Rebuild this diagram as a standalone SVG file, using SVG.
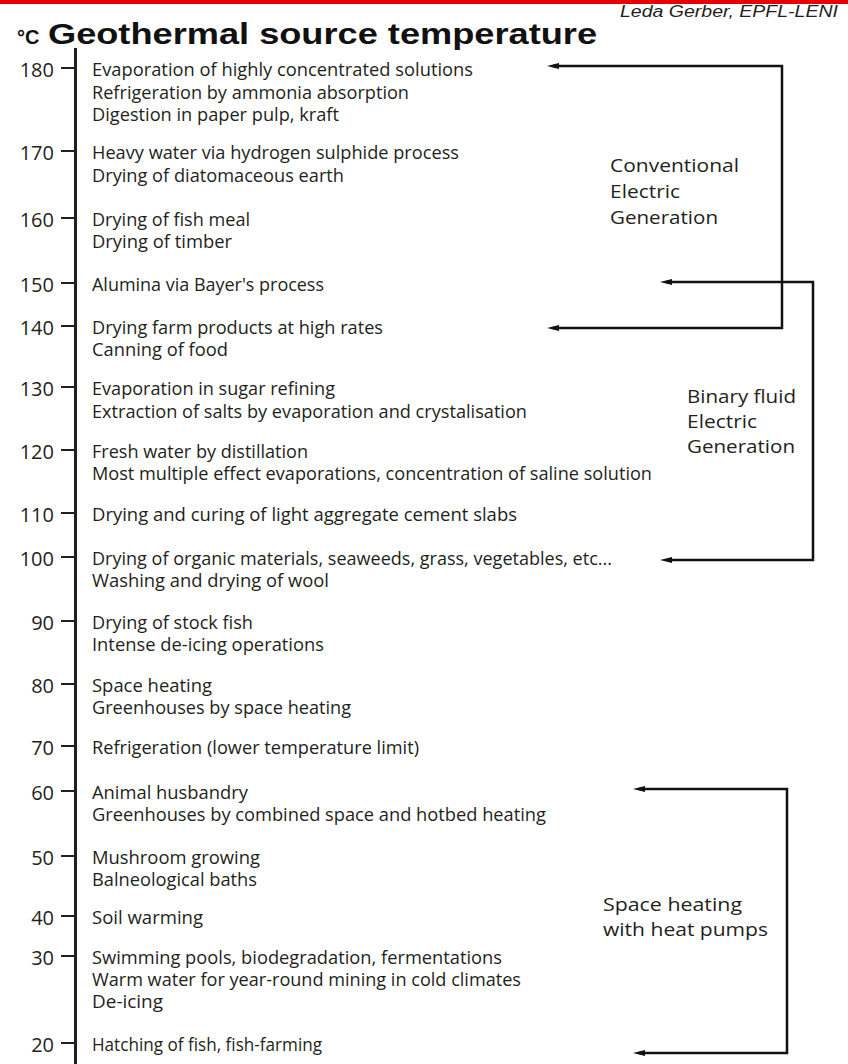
<svg xmlns="http://www.w3.org/2000/svg" width="848" height="1064" viewBox="0 0 848 1064">
<defs>
<style>
.t{font-family:"Open Sans","Noto Sans","Liberation Sans",sans-serif;font-size:17.5px;fill:#231f20}
.n{font-family:"Open Sans","Noto Sans","Liberation Sans",sans-serif;font-size:20px;fill:#231f20;text-anchor:end}
.lab{font-family:"Open Sans","Noto Sans","Liberation Sans",sans-serif;font-size:18px;fill:#231f20}
.tick{stroke:#231f20;stroke-width:2}
.conn{fill:none;stroke:#111;stroke-width:2.5;marker-start:url(#ah);marker-end:url(#ah)}
</style>
<marker id="ah" markerUnits="userSpaceOnUse" markerWidth="12" markerHeight="7" refX="6" refY="3.5" orient="auto-start-reverse">
<path d="M0,0.5 L12,3.5 L0,6.5 z" fill="#111"/>
</marker>
</defs>
<rect width="848" height="1064" fill="#fff"/>
<rect x="0" y="0" width="848" height="4" fill="#e60000"/>
<g id="header">
<text x="838" y="17" text-anchor="end" font-family="Liberation Sans, sans-serif" font-style="italic" font-size="16" fill="#231f20" textLength="218" lengthAdjust="spacingAndGlyphs">Leda Gerber, EPFL-LENI</text>
<text x="17" y="44" font-family="Liberation Sans, sans-serif" font-weight="bold" font-size="20" fill="#111">°C</text>
<text x="48" y="44" font-family="Liberation Sans, sans-serif" font-weight="bold" font-size="29" fill="#111" textLength="549" lengthAdjust="spacingAndGlyphs">Geothermal source temperature</text>
</g>
<g id="axis">
<line x1="75.5" y1="48" x2="75.5" y2="1064" stroke="#231f20" stroke-width="3"/>
</g>
<g id="t180">
<line class="tick" x1="61" y1="68" x2="75" y2="68"/>
<text class="n" x="54" y="77">180</text>
<text class="t" x="92" y="76" textLength="381" lengthAdjust="spacingAndGlyphs">Evaporation of highly concentrated solutions</text>
<text class="t" x="92" y="98.5" textLength="317" lengthAdjust="spacingAndGlyphs">Refrigeration by ammonia absorption</text>
<text class="t" x="92" y="121" textLength="247" lengthAdjust="spacingAndGlyphs">Digestion in paper pulp, kraft</text>
</g>
<g id="t170">
<line class="tick" x1="61" y1="151" x2="75" y2="151"/>
<text class="n" x="54" y="160">170</text>
<text class="t" x="92" y="159" textLength="367" lengthAdjust="spacingAndGlyphs">Heavy water via hydrogen sulphide process</text>
<text class="t" x="92" y="182" textLength="252" lengthAdjust="spacingAndGlyphs">Drying of diatomaceous earth</text>
</g>
<g id="t160">
<line class="tick" x1="61" y1="218" x2="75" y2="218"/>
<text class="n" x="54" y="227">160</text>
<text class="t" x="92" y="226" textLength="158" lengthAdjust="spacingAndGlyphs">Drying of fish meal</text>
<text class="t" x="92" y="248" textLength="140" lengthAdjust="spacingAndGlyphs">Drying of timber</text>
</g>
<g id="t150">
<line class="tick" x1="61" y1="283" x2="75" y2="283"/>
<text class="n" x="54" y="292">150</text>
<text class="t" x="92" y="291" textLength="232" lengthAdjust="spacingAndGlyphs">Alumina via Bayer's process</text>
</g>
<g id="t140">
<line class="tick" x1="61" y1="326" x2="75" y2="326"/>
<text class="n" x="54" y="335">140</text>
<text class="t" x="92" y="334" textLength="291" lengthAdjust="spacingAndGlyphs">Drying farm products at high rates</text>
<text class="t" x="92" y="356" textLength="136" lengthAdjust="spacingAndGlyphs">Canning of food</text>
</g>
<g id="t130">
<line class="tick" x1="61" y1="387" x2="75" y2="387"/>
<text class="n" x="54" y="396">130</text>
<text class="t" x="92" y="395" textLength="243" lengthAdjust="spacingAndGlyphs">Evaporation in sugar refining</text>
<text class="t" x="92" y="418" textLength="435" lengthAdjust="spacingAndGlyphs">Extraction of salts by evaporation and crystalisation</text>
</g>
<g id="t120">
<line class="tick" x1="61" y1="450" x2="75" y2="450"/>
<text class="n" x="54" y="459">120</text>
<text class="t" x="92" y="458" textLength="216" lengthAdjust="spacingAndGlyphs">Fresh water by distillation</text>
<text class="t" x="92" y="480" textLength="560" lengthAdjust="spacingAndGlyphs">Most multiple effect evaporations, concentration of saline solution</text>
</g>
<g id="t110">
<line class="tick" x1="61" y1="513" x2="75" y2="513"/>
<text class="n" x="54" y="522">110</text>
<text class="t" x="92" y="521" textLength="425" lengthAdjust="spacingAndGlyphs">Drying and curing of light aggregate cement slabs</text>
</g>
<g id="t100">
<line class="tick" x1="61" y1="557" x2="75" y2="557"/>
<text class="n" x="54" y="566">100</text>
<text class="t" x="92" y="565" textLength="520" lengthAdjust="spacingAndGlyphs">Drying of organic materials, seaweeds, grass, vegetables, etc...</text>
<text class="t" x="92" y="587" textLength="237" lengthAdjust="spacingAndGlyphs">Washing and drying of wool</text>
</g>
<g id="t90">
<line class="tick" x1="61" y1="621" x2="75" y2="621"/>
<text class="n" x="54" y="630">90</text>
<text class="t" x="92" y="629" textLength="161" lengthAdjust="spacingAndGlyphs">Drying of stock fish</text>
<text class="t" x="92" y="651" textLength="232" lengthAdjust="spacingAndGlyphs">Intense de-icing operations</text>
</g>
<g id="t80">
<line class="tick" x1="61" y1="684" x2="75" y2="684"/>
<text class="n" x="54" y="693">80</text>
<text class="t" x="92" y="692" textLength="120" lengthAdjust="spacingAndGlyphs">Space heating</text>
<text class="t" x="92" y="714" textLength="259" lengthAdjust="spacingAndGlyphs">Greenhouses by space heating</text>
</g>
<g id="t70">
<line class="tick" x1="61" y1="746" x2="75" y2="746"/>
<text class="n" x="54" y="755">70</text>
<text class="t" x="92" y="754" textLength="327" lengthAdjust="spacingAndGlyphs">Refrigeration (lower temperature limit)</text>
</g>
<g id="t60">
<line class="tick" x1="61" y1="791" x2="75" y2="791"/>
<text class="n" x="54" y="800">60</text>
<text class="t" x="92" y="799" textLength="156" lengthAdjust="spacingAndGlyphs">Animal husbandry</text>
<text class="t" x="92" y="821" textLength="454" lengthAdjust="spacingAndGlyphs">Greenhouses by combined space and hotbed heating</text>
</g>
<g id="t50">
<line class="tick" x1="61" y1="856" x2="75" y2="856"/>
<text class="n" x="54" y="865">50</text>
<text class="t" x="92" y="864" textLength="168" lengthAdjust="spacingAndGlyphs">Mushroom growing</text>
<text class="t" x="92" y="886" textLength="165" lengthAdjust="spacingAndGlyphs">Balneological baths</text>
</g>
<g id="t40">
<line class="tick" x1="61" y1="916" x2="75" y2="916"/>
<text class="n" x="54" y="925">40</text>
<text class="t" x="92" y="924" textLength="111" lengthAdjust="spacingAndGlyphs">Soil warming</text>
</g>
<g id="t30">
<line class="tick" x1="61" y1="956" x2="75" y2="956"/>
<text class="n" x="54" y="965">30</text>
<text class="t" x="92" y="964" textLength="410" lengthAdjust="spacingAndGlyphs">Swimming pools, biodegradation, fermentations</text>
<text class="t" x="92" y="986" textLength="429" lengthAdjust="spacingAndGlyphs">Warm water for year-round mining in cold climates</text>
<text class="t" x="92" y="1008" textLength="71" lengthAdjust="spacingAndGlyphs">De-icing</text>
</g>
<g id="t20">
<line class="tick" x1="61" y1="1043" x2="75" y2="1043"/>
<text class="n" x="54" y="1052">20</text>
<text class="t" x="92" y="1051" textLength="230" lengthAdjust="spacingAndGlyphs">Hatching of fish, fish-farming</text>
</g>
<g id="conventional">
<text class="lab" x="610" y="172" textLength="129" lengthAdjust="spacingAndGlyphs">Conventional</text>
<text class="lab" x="610" y="198" textLength="70" lengthAdjust="spacingAndGlyphs">Electric</text>
<text class="lab" x="610" y="224" textLength="108" lengthAdjust="spacingAndGlyphs">Generation</text>
</g>
<g id="binary">
<text class="lab" x="687" y="403" textLength="109" lengthAdjust="spacingAndGlyphs">Binary fluid</text>
<text class="lab" x="687" y="428" textLength="70" lengthAdjust="spacingAndGlyphs">Electric</text>
<text class="lab" x="687" y="453" textLength="108" lengthAdjust="spacingAndGlyphs">Generation</text>
</g>
<g id="heatpumps">
<text class="lab" x="603" y="911" textLength="139" lengthAdjust="spacingAndGlyphs">Space heating</text>
<text class="lab" x="603" y="936" textLength="165" lengthAdjust="spacingAndGlyphs">with heat pumps</text>
</g>
<g id="connectors">
<path class="conn" d="M553,66 H782 V328 H553"/>
<path class="conn" d="M666,282 H813 V560 H666"/>
<path class="conn" d="M639,789 H787 V1053 H639"/>
</g>
</svg>
